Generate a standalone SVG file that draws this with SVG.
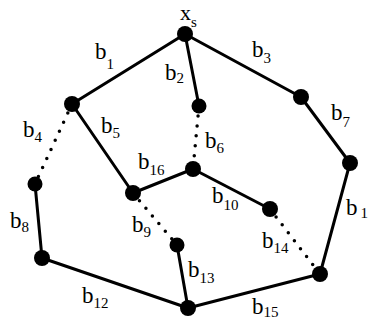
<svg xmlns="http://www.w3.org/2000/svg" width="374" height="320" viewBox="0 0 374 320">
<style>
.e{stroke:#000;stroke-width:3;fill:none;stroke-linecap:round}
.d{stroke:#000;stroke-width:3.5;fill:none;stroke-linecap:round;stroke-dasharray:0 10}
.n{fill:#000}
text{font-family:"Liberation Serif","Times New Roman",serif;font-size:23px;fill:#000}
.s{font-size:15px}
</style>
<rect width="374" height="320" fill="#fff"/>
<g id="connectors">
<line class="e" x1="185" y1="34" x2="72" y2="104"/>
<line class="e" x1="185" y1="34" x2="199" y2="106"/>
<line class="e" x1="185" y1="34" x2="301" y2="97"/>
<line class="e" x1="301" y1="97" x2="350" y2="163"/>
<line class="e" x1="350" y1="163" x2="320" y2="274"/>
<line class="e" x1="72" y1="104" x2="133" y2="193"/>
<line class="e" x1="133" y1="193" x2="193" y2="169"/>
<line class="e" x1="193" y1="169" x2="270" y2="209"/>
<line class="e" x1="35" y1="184" x2="42" y2="258"/>
<line class="e" x1="42" y1="258" x2="188" y2="308"/>
<line class="e" x1="177" y1="245" x2="188" y2="308"/>
<line class="e" x1="188" y1="308" x2="320" y2="274"/>
<line class="d" x1="72" y1="104" x2="35" y2="184"/>
<line class="d" x1="199" y1="106" x2="193" y2="169"/>
<line class="d" x1="133" y1="193" x2="177" y2="245"/>
<line class="d" x1="270" y1="209" x2="320" y2="274"/>
</g>
<g id="xs"><circle class="n" cx="185" cy="34" r="8"/><text x="180" y="20" style="font-size:22px">x<tspan class="s" dy="7">s</tspan></text></g>
<g id="nA"><circle class="n" cx="72" cy="104" r="8"/></g>
<g id="nB"><circle class="n" cx="199" cy="106" r="7.5"/></g>
<g id="nC"><circle class="n" cx="301" cy="97" r="8"/></g>
<g id="nD"><circle class="n" cx="350" cy="163" r="8"/></g>
<g id="nE"><circle class="n" cx="35" cy="184" r="7.5"/></g>
<g id="nF"><circle class="n" cx="133" cy="193" r="8"/></g>
<g id="nG"><circle class="n" cx="193" cy="169" r="8"/></g>
<g id="nH"><circle class="n" cx="270" cy="209" r="8"/></g>
<g id="nI"><circle class="n" cx="177" cy="245" r="7.5"/></g>
<g id="nJ"><circle class="n" cx="42" cy="258" r="8"/></g>
<g id="nK"><circle class="n" cx="188" cy="308" r="8"/></g>
<g id="nL"><circle class="n" cx="320" cy="274" r="8"/></g>
<g id="labels">
<text x="95" y="59">b<tspan class="s" dy="10">1</tspan></text>
<text x="165" y="80">b<tspan class="s" dy="3">2</tspan></text>
<text x="252" y="57">b<tspan class="s" dy="6">3</tspan></text>
<text x="23" y="137">b<tspan class="s" dy="5">4</tspan></text>
<text x="101" y="133">b<tspan class="s" dy="5">5</tspan></text>
<text x="205" y="148">b<tspan class="s" dy="5">6</tspan></text>
<text x="331" y="120">b<tspan class="s" dy="7">7</tspan></text>
<text x="10" y="228">b<tspan class="s" dy="4">8</tspan></text>
<text x="132" y="232">b<tspan class="s" dy="5">9</tspan></text>
<text x="212" y="203">b<tspan class="s" dy="7">10</tspan></text>
<text x="346" y="215">b<tspan class="s" dy="3" dx="3">1</tspan></text>
<text x="82" y="303">b<tspan class="s" dy="5">12</tspan></text>
<text x="188" y="277">b<tspan class="s" dy="6">13</tspan></text>
<text x="262" y="248">b<tspan class="s" dy="5">14</tspan></text>
<text x="252" y="314">b<tspan class="s" dy="3">15</tspan></text>
<text x="138" y="169">b<tspan class="s" dy="6">16</tspan></text>
</g>
</svg>
